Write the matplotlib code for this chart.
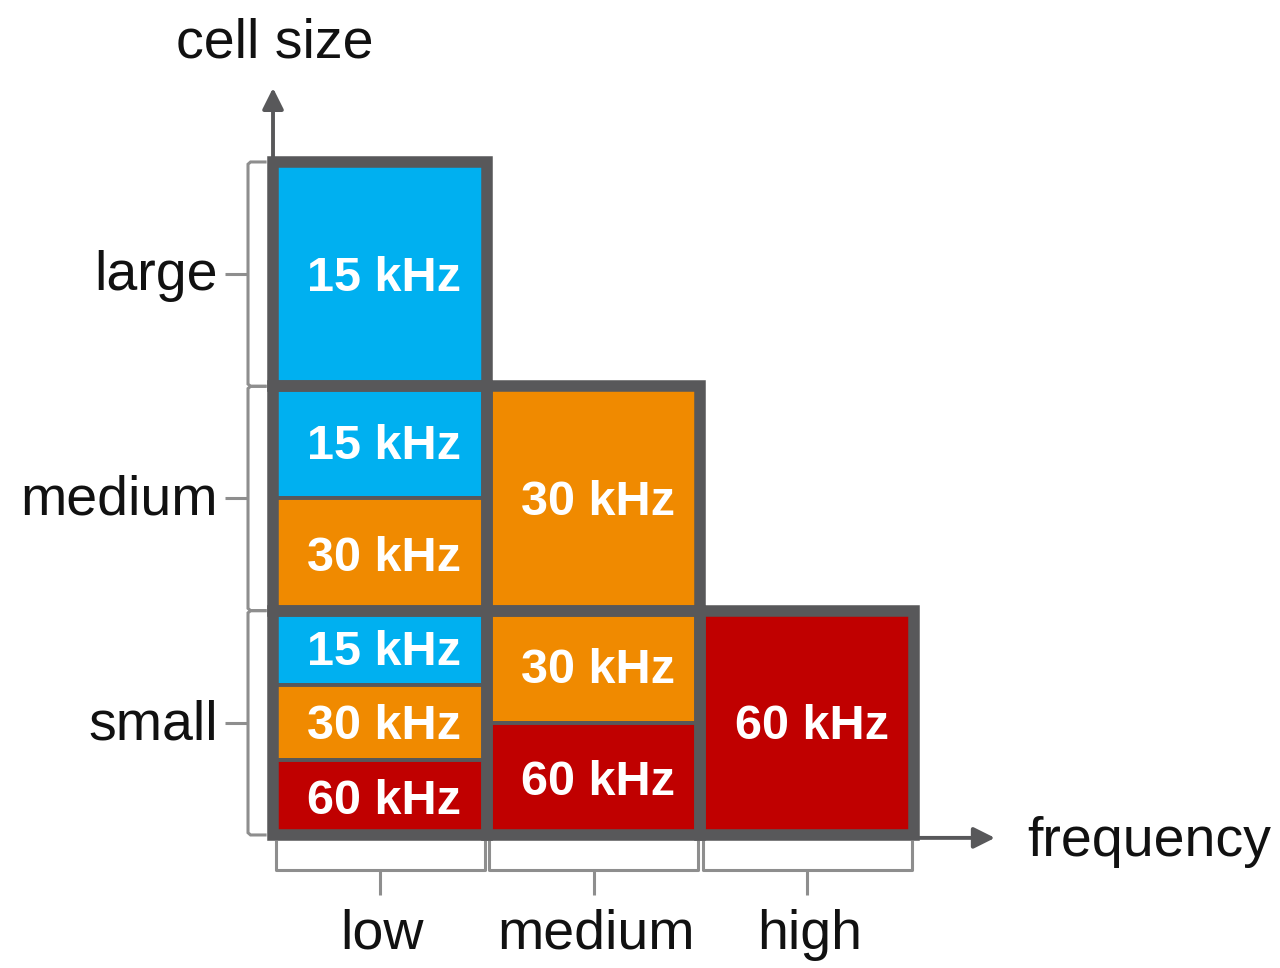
import matplotlib
matplotlib.use('Agg')
import matplotlib.pyplot as plt
from matplotlib.patches import Rectangle
from matplotlib.path import Path
from matplotlib.patches import PathPatch

# ---- data ----
freq_labels = ['low', 'medium', 'high']          # columns, left to right
size_labels = ['small', 'medium', 'large']       # rows, bottom to top
# subcarrier spacings (kHz) used in each (cell size, frequency) cell, listed top to bottom
cell_spacings = {
    ('large', 'low'): [15],
    ('medium', 'low'): [15, 30],
    ('medium', 'medium'): [30],
    ('small', 'low'): [15, 30, 60],
    ('small', 'medium'): [30, 60],
    ('small', 'high'): [60],
}
spacing_colors = {15: '#00B0F0', 30: '#F08A00', 60: '#C00000'}
x_title = 'frequency'
y_title = 'cell size'

# ---- style ----
BORDER = '#58585A'
BRACKET = '#8E8E8E'
TEXT = '#111111'
plt.rcParams['font.family'] = ['Liberation Sans', 'DejaVu Sans']

fig = plt.figure(figsize=(12.8, 9.68), dpi=100)
ax = fig.add_axes([0, 0, 1, 1])
ax.set_xlim(-1.2775, 4.712)
ax.set_ylim(-0.593, 3.722)
ax.axis('off')

# axis arrows
ax.annotate('', xy=(0, 3.33), xytext=(0, 0),
            arrowprops=dict(arrowstyle='-|>', color=BORDER, lw=2.8,
                            mutation_scale=32, shrinkA=0, shrinkB=0), zorder=1)
ax.annotate('', xy=(3.378, -0.013), xytext=(2.9, -0.013),
            arrowprops=dict(arrowstyle='-|>', color=BORDER, lw=2.8,
                            mutation_scale=32, shrinkA=0, shrinkB=0), zorder=1)

# blocks
for (size, freq), spacings in cell_spacings.items():
    col = freq_labels.index(freq)
    row = size_labels.index(size)
    n = len(spacings)
    for k, sp in enumerate(spacings):
        y0 = row + 1 - (k + 1) / n
        ax.add_patch(Rectangle((col, y0), 1, 1 / n, facecolor=spacing_colors[sp],
                               edgecolor=BORDER, lw=2.8, zorder=2))
        ax.text(col + 0.52, y0 + 0.5 / n - 0.018, f'{sp} kHz', color='white',
                fontsize=35, fontweight='bold', ha='center', va='center', zorder=4)
    ax.add_patch(Rectangle((col, row), 1, 1, fill=False, edgecolor=BORDER,
                           lw=8.3, joinstyle='miter', zorder=3))

# left brackets (cell size)
bx, sx, tx = -0.117, -0.03, -0.225
for r, lab in enumerate(size_labels):
    verts = [(sx, r + 1), (bx + 0.012, r + 1), (bx, r + 0.99), (bx, r + 0.01),
             (bx + 0.012, r), (sx, r)]
    ax.add_patch(PathPatch(Path(verts), fill=False, edgecolor=BRACKET, lw=2.2, zorder=1))
    ax.plot([bx, tx], [r + 0.5, r + 0.5], color=BRACKET, lw=2.2,
            solid_capstyle='butt', zorder=1)
    ax.text(-0.257, r + 0.49, lab, fontsize=40, color=TEXT, ha='right', va='center')

# bottom brackets (frequency)
ey, hy, ty = -0.031, -0.156, -0.2675
for c, lab in enumerate(freq_labels):
    x0, x1 = c + 0.012, c + 0.99
    ax.plot([x0, x0, x1, x1], [ey, hy, hy, ey], color=BRACKET, lw=2.2, zorder=1)
    ax.plot([c + 0.5, c + 0.5], [hy, ty], color=BRACKET, lw=2.2,
            solid_capstyle='butt', zorder=1)
    ax.text(c + 0.51, -0.445, lab, fontsize=40, color=TEXT, ha='center', va='center')

# titles
ax.text(0.01, 3.528, y_title, fontsize=40, color=TEXT, ha='center', va='center')
ax.text(3.528, -0.03, x_title, fontsize=40, color=TEXT, ha='left', va='center')

fig.savefig('out.png', dpi=100)
